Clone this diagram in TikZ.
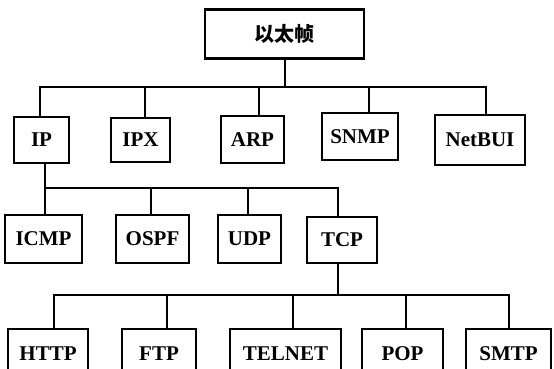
\documentclass[tikz,border=0pt]{standalone}
\usepackage{fontspec}
\setmainfont{Liberation Serif}
\newfontfamily\cjk{Noto Sans CJK SC}
\begin{document}
\begin{tikzpicture}[x=1pt,y=-1pt,
  box/.style={draw,line width=2.2pt,inner sep=0pt,font=\fontsize{21}{21}\selectfont\bfseries},
  wire/.style={line width=2.2pt}]
\useasboundingbox (0,0) rectangle (554,369);
\fill[white] (0,0) rectangle (554,369);
\clip (0,0) rectangle (554,369);
% top
\node[box,minimum width=159pt,minimum height=49pt,font=\cjk\fontsize{20}{20}\selectfont\bfseries] (top) at (284.5,34) {以太帧};
% row 1
\node[box,minimum width=55pt,minimum height=46pt] (ip) at (41.5,140) {IP};
\node[box,minimum width=59pt,minimum height=44pt] (ipx) at (140.5,140) {IPX};
\node[box,minimum width=63pt,minimum height=47pt] (arp) at (252.5,139.5) {ARP};
\node[box,minimum width=76pt,minimum height=47pt] (snmp) at (360,136.5) {SNMP};
\node[box,minimum width=90pt,minimum height=50pt] (netbui) at (480,140) {NetBUI};
% row 2
\node[box,minimum width=77pt,minimum height=48pt] (icmp) at (43.5,239) {ICMP};
\node[box,minimum width=73pt,minimum height=48pt] (ospf) at (152.5,239) {OSPF};
\node[box,minimum width=63pt,minimum height=48pt] (udp) at (249.5,239) {UDP};
\node[box,minimum width=70pt,minimum height=46pt] (tcp) at (342,240) {TCP};
% row 3
\node[box,minimum width=80pt,minimum height=50pt] (http) at (48,354) {HTTP};
\node[box,minimum width=74pt,minimum height=50pt] (ftp) at (159,354) {FTP};
\node[box,minimum width=111pt,minimum height=50pt] (telnet) at (285.5,354) {TELNET};
\node[box,minimum width=81pt,minimum height=50pt] (pop) at (402.5,354) {POP};
\node[box,minimum width=85pt,minimum height=50pt] (smtp) at (508.5,354) {SMTP};
% buses
\coordinate (b1) at (0,87);
\coordinate (b2) at (0,188);
\coordinate (b3) at (0,295);
% level 1
\coordinate (topB) at ([xshift=0.5pt]top.south);
\draw[wire] (topB) -- (topB |- b1);
\coordinate (ipT) at ([xshift=-1.5pt]ip.north);
\coordinate (ipxT) at ([xshift=4.5pt]ipx.north);
\coordinate (arpT) at ([xshift=6.5pt]arp.north);
\coordinate (snmpT) at ([xshift=9pt]snmp.north);
\coordinate (netbuiT) at ([xshift=6pt]netbui.north);
\draw[wire] (ipT) -- (ipT |- b1) -- (netbuiT |- b1) -- (netbuiT);
\draw[wire] (ipxT) -- (ipxT |- b1);
\draw[wire] (arpT) -- (arpT |- b1);
\draw[wire] (snmpT) -- (snmpT |- b1);
% level 2
\coordinate (ipB) at ([xshift=3.5pt]ip.south);
\coordinate (icmpT) at ([xshift=1.5pt]icmp.north);
\coordinate (ospfT) at ([xshift=-1.5pt]ospf.north);
\coordinate (udpT) at ([xshift=-1.5pt]udp.north);
\coordinate (tcpT) at ([xshift=-4pt]tcp.north);
\draw[wire] (ipB) -- (ipB |- b2) -- (tcpT |- b2) -- (tcpT);
\draw[wire] (icmpT) -- (icmpT |- b2);
\draw[wire] (ospfT) -- (ospfT |- b2);
\draw[wire] (udpT) -- (udpT |- b2);
% level 3
\coordinate (tcpB) at ([xshift=-4pt]tcp.south);
\coordinate (httpT) at ([xshift=6pt]http.north);
\coordinate (ftpT) at ([xshift=8pt]ftp.north);
\coordinate (telnetT) at ([xshift=7.5pt]telnet.north);
\coordinate (popT) at ([xshift=3.5pt]pop.north);
\coordinate (smtpT) at ([xshift=0.5pt]smtp.north);
\draw[wire] (tcpB) -- (tcpB |- b3);
\draw[wire] (httpT) -- (httpT |- b3) -- (smtpT |- b3) -- (smtpT);
\draw[wire] (ftpT) -- (ftpT |- b3);
\draw[wire] (telnetT) -- (telnetT |- b3);
\draw[wire] (popT) -- (popT |- b3);
\end{tikzpicture}
\end{document}
